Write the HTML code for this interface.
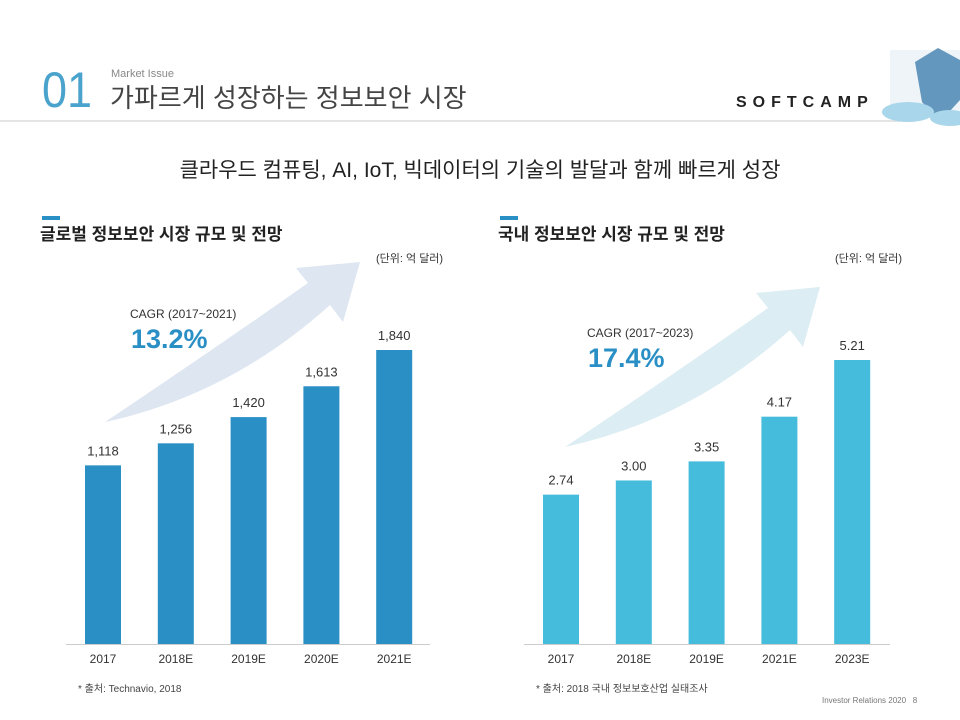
<!DOCTYPE html>
<html><head><meta charset="utf-8"><style>
body{margin:0;width:960px;height:720px;background:#fff;font-family:"Liberation Sans","Noto Sans CJK KR",sans-serif;overflow:hidden;position:relative}
.a{position:absolute;white-space:nowrap}
</style></head><body>
<div class="a" style="left:42px;top:62px;font-size:50px;color:#4aa3cc;line-height:56px;transform:scaleX(0.9);transform-origin:left">01</div>
<div class="a" style="left:111px;top:68px;font-size:11px;color:#888">Market Issue</div>
<div class="a" style="left:110px;top:81px;font-size:26px;color:#444;line-height:34px">가파르게 성장하는 정보보안 시장</div>
<div class="a" style="left:0;top:120px;width:900px;height:2px;background:#e4e4e4"></div>
<div class="a" style="left:736px;top:94px;font-size:16px;font-weight:bold;letter-spacing:6px;color:#222">SOFTCAMP</div>
<svg class="a" style="left:880px;top:0" width="80" height="130"><rect x="10" y="50" width="70" height="60" fill="#eef4f8"/><path d="M35,62 L58,48 L80,60 L80,100 L60,122 L42,102 Z" fill="#4b86b3" opacity=".85"/><ellipse cx="28" cy="112" rx="26" ry="10" fill="#a9d6ea"/><ellipse cx="70" cy="118" rx="20" ry="8" fill="#a9d6ea"/></svg>
<div class="a" style="left:0;width:960px;text-align:center;top:154px;font-size:21px;color:#222">클라우드 컴퓨팅, AI, IoT, 빅데이터의 기술의 발달과 함께 빠르게 성장</div>

<div class="a" style="left:42px;top:216px;width:18px;height:4px;background:#2a8fc5"></div>
<div class="a" style="left:40px;top:220px;font-size:17px;font-weight:bold;color:#222">글로벌 정보보안 시장 규모 및 전망</div>
<div class="a" style="left:376px;top:250px;font-size:11px;color:#333">(단위: 억 달러)</div>
<div class="a" style="left:500px;top:216px;width:18px;height:4px;background:#2a8fc5"></div>
<div class="a" style="left:498px;top:220px;font-size:17px;font-weight:bold;color:#222">국내 정보보안 시장 규모 및 전망</div>
<div class="a" style="left:835px;top:250px;font-size:11px;color:#333">(단위: 억 달러)</div>

<svg class="a" id="chart" style="left:0;top:0" width="960" height="720">
<path d="M105,422 Q220,345 308,283 L296,268 L360,262 L343,322 L330,305 Q230,395 105,422Z" fill="#dde6f1"/>
<path transform="translate(460,25)" d="M105,422 Q220,345 308,283 L296,268 L360,262 L343,322 L330,305 Q230,395 105,422Z" fill="#dcedf3"/>
<text x="130" y="318" font-size="12" fill="#333">CAGR (2017~2021)</text>
<text x="131" y="348" font-size="27" font-weight="bold" fill="#2a8fc5">13.2%</text>
<text x="587" y="337" font-size="12" fill="#333">CAGR (2017~2023)</text>
<text x="588" y="367" font-size="27" font-weight="bold" fill="#2a8fc5">17.4%</text>
<line x1="66" y1="644.5" x2="430" y2="644.5" stroke="#ccc"/>
<line x1="524" y1="644.5" x2="890" y2="644.5" stroke="#ccc"/>
</svg>
<div class="a" style="left:78px;top:680px;font-size:10px;color:#444">* 출처: Technavio, 2018</div>
<div class="a" style="left:536px;top:680px;font-size:10px;color:#444">* 출처: 2018 국내 정보보호산업 실태조사</div>
<div class="a" style="left:822px;top:696px;font-size:8px;color:#777">Investor Relations 2020 &nbsp;&nbsp;8</div>
<script>
const leftCats=["2017","2018E","2019E","2020E","2021E"];
const leftVals=[1118,1256,1420,1613,1840];
const leftLabels=["1,118","1,256","1,420","1,613","1,840"];
const rightCats=["2017","2018E","2019E","2021E","2023E"];
const rightVals=[2.74,3.00,3.35,4.17,5.21];
const rightLabels=["2.74","3.00","3.35","4.17","5.21"];
const svg=document.getElementById('chart');
const NS="http://www.w3.org/2000/svg";
const base=644;
function draw(cats,vals,labels,x0,step,scale,color){
  cats.forEach((c,i)=>{
    const x=x0+i*step, h=vals[i]*scale;
    const r=document.createElementNS(NS,'rect');
    r.setAttribute('x',x);r.setAttribute('y',base-h);r.setAttribute('width',36);r.setAttribute('height',h);r.setAttribute('fill',color);
    
    
    svg.appendChild(r);
    const t=document.createElementNS(NS,'text');
    t.setAttribute('x',x+18);t.setAttribute('y',base-h-10);t.setAttribute('text-anchor','middle');t.setAttribute('font-size','13');t.setAttribute('fill','#333');
    t.textContent=labels[i];
    
    
    svg.appendChild(t);
    const k=document.createElementNS(NS,'text');
    k.setAttribute('x',x+18);k.setAttribute('y',663);k.setAttribute('text-anchor','middle');k.setAttribute('font-size','12');k.setAttribute('fill','#333');
    k.textContent=c;
    
    
    svg.appendChild(k);
  });
}
draw(leftCats,leftVals,leftLabels,85,72.8,294/1840,'#2a8fc5');
draw(rightCats,rightVals,rightLabels,543,72.8,284/5.21,'#45bcdb');
</script>
</body></html>
